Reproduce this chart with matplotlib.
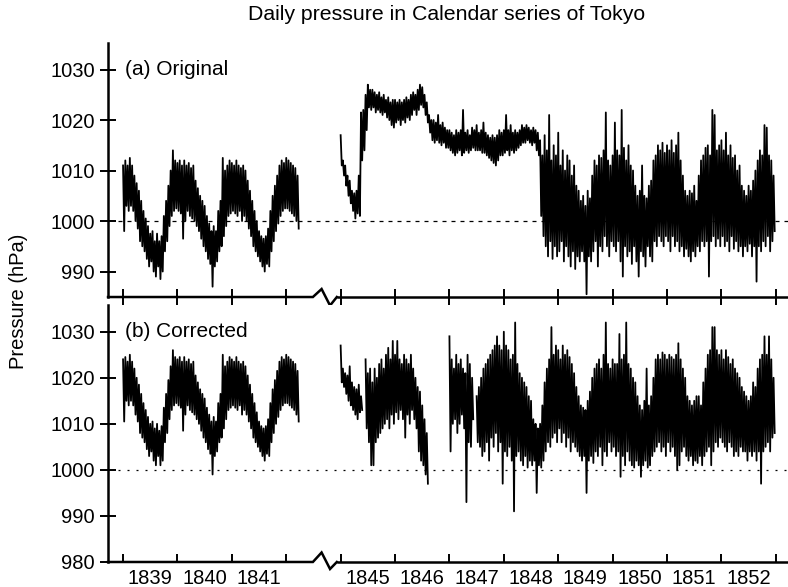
import numpy as np
import matplotlib.pyplot as plt
from matplotlib.transforms import blended_transform_factory

plt.rcParams['font.family'] = ['Liberation Sans', 'DejaVu Sans']

# each series is stored as half-month windows: highest and lowest daily value read in the window
STEP = 1 / 24
nan = float('nan')

# (a) original, 1839 - 1842
orig_a_start = 1839.0
orig_a_hi = [1011, 1012, 1011, 1012.5, 1011, 1009, 1007.5, 1006, 1004, 1002, 1000.5, 999, 997.5, 998, 996, 997.5, 996, 997, 1001, 1004, 1007, 1010, 1014, 1012,
             1011.5, 1012, 1011, 1012, 1011, 1011.5, 1010.5, 1011, 1008, 1006.5, 1005, 1004, 1003, 1001, 999.5, 998, 999, 998, 1002, 1004, 1012.5, 1010, 1011, 1012,
             1011.5, 1011, 1012, 1011, 1010.5, 1011, 1010, 1008, 1006, 1004, 1002, 1000, 998, 997, 996.5, 997, 998.5, 1002, 1005, 1007, 1009, 1011, 1012, 1011.5,
             1012.5, 1012, 1011.5, 1011, 1010.5, 1009]
orig_a_lo = [998, 1003, 1002, 1003, 1002, 1000, 998.5, 996, 995, 994, 992.5, 991, 992, 990, 989, 991, 988.5, 990, 994, 996, 999, 1001, 1002, 1002.5,
             1002, 1001.5, 996.5, 1000, 1002, 1001, 1000.5, 1000, 999, 998, 996.5, 995, 994, 992.5, 991.5, 987, 991, 992, 994, 995, 997, 999, 1001, 1001.5,
             1002, 1001.5, 1001, 1002, 1000, 1001, 1000, 998.5, 997, 995, 994, 993, 992, 991, 990, 991.5, 991, 994, 996, 998, 999.5, 1001, 1002, 1002.5,
             1002.5, 1002, 1001.5, 1001, 1000, 998.5]

# (a) original, 1845 - 1852
orig_b_start = 1845.0
orig_b_hi = [1017, 1012, 1011, 1009, 1008, 1006, 1005.5, 1006, 1009, 1021.5, 1022, 1025, 1027, 1026, 1026, 1025.5, 1025, 1025.5, 1024.5, 1025, 1024, 1024.5, 1023.5, 1024,
             1024, 1023.5, 1024, 1023.5, 1024, 1024.5, 1024, 1025, 1025.5, 1025, 1026, 1027, 1026.5, 1025, 1023.5, 1021, 1020, 1020, 1019.5, 1021, 1019, 1019.5, 1018.5, 1018,
             1018, 1017.5, 1017, 1018, 1017.5, 1018, 1022, 1017.5, 1018, 1017, 1018.5, 1018, 1019, 1017.5, 1018, 1019.5, 1017.5, 1017, 1016.5, 1017, 1016.5, 1017, 1018, 1017.5,
             1018, 1021, 1018, 1019, 1017.5, 1018, 1017.5, 1018, 1019, 1018.5, 1019, 1018.5, 1018, 1018.5, 1018, 1017.5, 1016, 1013, 1017, 1014, 1021, 1012, 1015, 1013,
             1017.5, 1011, 1014, 1010, 1013, 1012, 1009, 1011, 1007, 1006, 1004, 1005, 1003, 1006, 1004.5, 1009, 1012, 1011, 1013, 1012.5, 1014, 1021.5, 1012, 1011,
             1013, 1019.5, 1014, 1013, 1022, 1014.5, 1012, 1015, 1011, 1010, 1007, 1005, 1006, 1011, 1005, 1004.5, 1007, 1008, 1012, 1013, 1015, 1014, 1015.5, 1013.5,
             1015, 1014, 1016, 1013.5, 1015, 1017.5, 1012, 1009, 1006, 1005, 1006, 1005.5, 1007, 1004, 1009, 1012, 1013, 1014.5, 1015, 1013, 1022, 1021, 1014, 1015,
             1016, 1014, 1017.5, 1013, 1015, 1012.5, 1013, 1010, 1011, 1007, 1006, 1005, 1007, 1006, 1008, 1010, 1012, 1014, 1013, 1019, 1018.5, 1013, 1012, 1009]
orig_b_lo = [1011, 1009, 1007, 1005, 1003.5, 1002, 1000.5, 1001.5, 1001, 1012, 1014, 1018, 1022.5, 1022, 1022.5, 1021.5, 1022, 1021.5, 1021, 1021.5, 1020.5, 1020, 1019, 1018.5,
             1019.5, 1020, 1019, 1020, 1019.5, 1020.5, 1020, 1021, 1022, 1021, 1022, 1023, 1022.5, 1021, 1019.5, 1017.5, 1016, 1015.5, 1016, 1015.5, 1015, 1015.5, 1014.5, 1014.5,
             1014, 1013.5, 1013, 1013.5, 1014, 1013, 1013.5, 1014, 1013.5, 1014, 1014.5, 1014, 1014, 1014, 1013.5, 1013.5, 1013, 1012.5, 1012, 1011.5, 1011, 1012, 1013, 1013,
             1013.5, 1014, 1013, 1014, 1013.5, 1014, 1014.5, 1015, 1015.5, 1015.5, 1016, 1015.5, 1015, 1015.5, 1014, 1013, 1001, 997, 995, 993, 996, 992.5, 995, 993,
             994, 996, 992, 995, 993, 991, 994, 990.5, 993, 992, 994, 992, 985.5, 993, 992, 994, 996, 991, 995, 994, 997, 995, 993, 996,
             995, 994, 996, 992, 989, 995, 993, 994, 991.5, 995, 992, 989, 994, 993, 991, 995, 993, 992, 996, 995, 997, 996, 995, 997,
             996, 994, 997, 995, 996, 994, 995, 993, 994.5, 993, 992, 994, 993, 995, 994, 996, 995, 996, 989, 996, 997, 995, 996.5, 995,
             997, 995, 996, 994, 997, 994.5, 996, 994, 995, 993, 995, 994, 995.5, 993, 995, 988, 995, 994, 996, 995, 997, 994, 996, 998]

# (b) corrected, 1839 - 1842
corr_a_start = 1839.0
corr_a_hi = [1024, 1024.5, 1023.5, 1025, 1023.5, 1022, 1020, 1018.5, 1016.5, 1014.5, 1013, 1011.5, 1010, 1010.5, 1009, 1010, 1008.5, 1009.5, 1013.5, 1016.5, 1019.5, 1022.5, 1026, 1024.5,
             1024, 1024.5, 1023.5, 1024.5, 1023.5, 1024, 1023, 1023.5, 1020.5, 1019, 1017.5, 1016.5, 1015.5, 1013.5, 1012, 1010.5, 1011.5, 1010.5, 1014.5, 1016.5, 1025, 1022.5, 1023.5, 1024.5,
             1024, 1023.5, 1024.5, 1023.5, 1023, 1023.5, 1022.5, 1020.5, 1018.5, 1016.5, 1014.5, 1012.5, 1010.5, 1009.5, 1009, 1009.5, 1011, 1014.5, 1017.5, 1019.5, 1021.5, 1023.5, 1024.5, 1024,
             1025, 1024.5, 1024, 1023.5, 1023, 1021.5]
corr_a_lo = [1010.5, 1015, 1014, 1015, 1014, 1012, 1010.5, 1008, 1007, 1006, 1004.5, 1003, 1004, 1002, 1001, 1003, 1001, 1002, 1006, 1008, 1011, 1013, 1014, 1014.5,
             1014, 1013.5, 1008.5, 1012, 1014, 1013, 1012.5, 1012, 1011, 1010, 1008.5, 1007, 1006, 1004.5, 1003.5, 999, 1003, 1004, 1006, 1007, 1009, 1011, 1013, 1013.5,
             1014, 1013.5, 1013, 1014, 1012, 1013, 1012, 1010.5, 1009, 1007, 1006, 1005, 1004, 1003, 1002, 1003.5, 1003, 1006, 1008, 1010, 1011.5, 1013, 1014, 1014.5,
             1014.5, 1014, 1013.5, 1013, 1012, 1010.5]

# (b) corrected, 1845 - 1846
corr_b_start = 1845.0
corr_b_hi = [1027, 1022, 1021, 1020.5, 1022.5, 1019, 1018, 1017.5, 1018.5, 1016, nan, 1024, 1021, 1022, 1019, 1022, 1020, 1023, 1024, 1022, 1025, 1026.5, 1024, 1028,
             1025, 1028, 1024, 1023, 1025, 1024, 1023, 1025, 1022, 1020, 1018, 1017, 1014, 1011, 1008]
corr_b_lo = [1019, 1018, 1016.5, 1015, 1014, 1013, 1012, 1011, 1012.5, 1013, nan, 1009, 1006, 1001, 1001, 1006, 1007, 1008, 1009, 1010, 1011, 1009, 1012, 1010,
             1012.5, 1011, 1013, 1011, 1007, 1012, 1010, 1013, 1011, 1009, 1004, 1002, 1001, 999, 997]

# (b) corrected, 1847 - 1852
corr_c_start = 1847.0
corr_c_hi = [1029, 1024, 1022, 1025, 1023, 1024, 1022, 1021, 1025, 1023, 1020, nan, 1016, 1018, 1020, 1022, 1023, 1024, 1025, 1026, 1027, 1029, 1027, 1026,
             1030, 1027, 1026, 1024, 1025, 1032, 1023, 1021, 1020, 1019, 1018, 1016, 1015, 1011, 1010, 1009, 1010, 1014, 1019, 1022, 1024, 1031, 1025, 1027,
             1026, 1024, 1027, 1025, 1026, 1024.5, 1023, 1021, 1018, 1016, 1014, 1013.5, 1013, 1015, 1017, 1020, 1022, 1023, 1024, 1022, 1025, 1032, 1023, 1022,
             1024, 1023, 1023, 1029.5, 1024, 1025, 1032, 1023, 1022, 1020, 1019, 1016, 1014, 1013, 1015, 1022, 1014, 1016, 1020, 1024, 1025, 1024, 1025.5, 1025,
             1024, 1025, 1024.5, 1024, 1025, 1027.5, 1024, 1022, 1020, 1016, 1015, 1014, 1015, 1016, 1016, 1014, 1019, 1022, 1025, 1026, 1031, 1031, 1026, 1025,
             1026, 1024, 1026, 1024.5, 1023, 1024, 1022, 1021, 1020, 1018, 1017, 1016, 1015, 1016, 1019, 1018, 1022, 1024, 1025, 1029, 1025, 1029, 1024, 1020]
corr_c_lo = [1004, 1010, 1011, 1008, 1010, 1012, 1009, 993, 1006, 1005, 1011, nan, 1006, 1005, 1003, 1004, 1006, 1002, 1007, 1005, 1008, 1004, 1006, 997,
             1004, 1003, 1005, 1002, 991, 1003, 1004, 1002, 1001, 1003, 1000.5, 1002, 1001, 1002, 995, 1001, 1000.5, 1002, 1004, 1006, 1005, 1007, 1008, 1006,
             1009, 1006, 1008, 1005, 1007, 1004, 1006, 1005, 1004, 1003, 1002, 1003, 995, 1002, 1003, 1001.5, 1004, 1003, 1005, 1001, 1004, 1003, 1006, 1004,
             1005, 1003, 1004, 998.5, 1003, 1001, 1004, 1002, 1001, 1000.5, 1002, 1001, 998.5, 1001, 1002, 1000.5, 1001, 1003, 1004, 1005, 1006, 1004, 1005, 1003,
             1006, 1004, 1005, 1003, 1000, 1001, 1004, 1005, 1003, 1002, 1003, 1001, 1002, 1001.5, 1003, 1001, 1003, 1004, 1005, 1001, 1004, 1006, 1005, 1007,
             1006, 1005, 1004, 1006, 1005, 1003, 1004, 1003, 1005, 1004, 1004, 1002, 1004, 1003, 1004, 1002, 1004, 997, 1004, 1005, 1006, 1004, 1007, 1008]

year_ticks = [1839, 1840, 1841, 1842, 1845, 1846, 1847, 1848, 1849, 1850, 1851, 1852, 1853]
year_labels = ['1839', '1840', '1841', '1845', '1846', '1847', '1848', '1849', '1850', '1851', '1852']
label_years = [1839, 1840, 1841, 1845, 1846, 1847, 1848, 1849, 1850, 1851, 1852]

GAP = 2  # 1843-1844 are cut out of the axis


def pos(t):
    t = np.asarray(t, dtype=float)
    return np.where(t >= 1844, t - GAP, t)


def zigzag(start, hi, lo):
    t = start + np.arange(len(hi)) * STEP
    x = np.empty(2 * len(hi))
    y = np.empty(2 * len(hi))
    x[0::2] = t
    x[1::2] = t + STEP / 2
    y[0::2] = hi
    y[1::2] = lo
    return pos(x), y


def axis_line(ax, up, down):
    # bottom axis line with the break symbol
    tr = blended_transform_factory(ax.transData, ax.transAxes)
    h = ax.bbox.height
    x0, x1 = ax.get_xlim()
    kw = dict(color='black', lw=1.8, transform=tr, clip_on=False, solid_joinstyle='miter')
    ax.plot([x0, 1842.49, 1842.65, 1842.805, 1842.93], [0, 0, up / h, -down / h, 0], **kw)
    ax.plot([1842.96, x1], [0, 0], **kw)


fig = plt.figure(figsize=(7.88, 5.87), dpi=100)
ax1 = fig.add_axes([0.1371, 0.4940, 0.8629, 0.4327])
ax2 = fig.add_axes([0.1371, 0.0426, 0.8629, 0.4378])

for ax in (ax1, ax2):
    ax.set_xlim(1838.724, 1851.224)
    for s in ('top', 'right', 'bottom'):
        ax.spines[s].set_visible(False)
    ax.spines['left'].set_linewidth(1.8)
    ax.set_xticks(pos(year_ticks))
    ax.set_xticks(pos(np.array(label_years) + 0.5), minor=True)
    ax.tick_params(axis='y', direction='inout', length=11, width=1.4, labelsize=14.5, pad=4)
    ax.tick_params(axis='x', which='minor', length=0)

ax1.set_ylim(984.95, 1035.25)
ax1.set_yticks([990, 1000, 1010, 1020, 1030])
ax1.tick_params(axis='x', which='major', direction='inout', length=12, width=1.4, labelbottom=False)
ax1.tick_params(axis='x', which='minor', labelbottom=False)

ax2.set_ylim(980, 1035.8)
ax2.set_yticks([980, 990, 1000, 1010, 1020, 1030])
ax2.tick_params(axis='x', which='major', direction='in', length=6, width=1.4, labelbottom=False)
ax2.set_xticklabels(year_labels, minor=True)
ax2.tick_params(axis='x', which='minor', labelsize=14.5, pad=5)

ax1.axhline(1000, xmin=0.015, color='black', lw=0.9, dashes=(3.2, 4.0), zorder=1)
ax2.axhline(1000, xmin=0.015, color='black', lw=0.9, dashes=(1.6, 5.6), zorder=1)

for start, hi, lo in [(orig_a_start, orig_a_hi, orig_a_lo), (orig_b_start, orig_b_hi, orig_b_lo)]:
    x, y = zigzag(start, hi, lo)
    ax1.plot(x, y, color='black', lw=1.3, zorder=2)

for start, hi, lo in [(corr_a_start, corr_a_hi, corr_a_lo), (corr_b_start, corr_b_hi, corr_b_lo),
                      (corr_c_start, corr_c_hi, corr_c_lo)]:
    x, y = zigzag(start, hi, lo)
    ax2.plot(x, y, color='black', lw=1.3, zorder=2)

axis_line(ax1, 8, 8.5)
axis_line(ax2, 9.5, 7)

lab = blended_transform_factory(ax1.transAxes, ax1.transData)
ax1.text(0.025, 1030, '(a) Original', transform=lab, fontsize=15, va='center', ha='left')
lab2 = blended_transform_factory(ax2.transAxes, ax2.transData)
ax2.text(0.025, 1030, '(b) Corrected', transform=lab2, fontsize=15, va='center', ha='left')

fig.text(0.567, 0.976, 'Daily pressure in Calendar series of Tokyo', fontsize=15.3, ha='center', va='center')
fig.text(0.024, 0.487, 'Pressure (hPa)', fontsize=14.5, rotation=90, ha='center', va='center')

fig.savefig('out.png', dpi=100)
